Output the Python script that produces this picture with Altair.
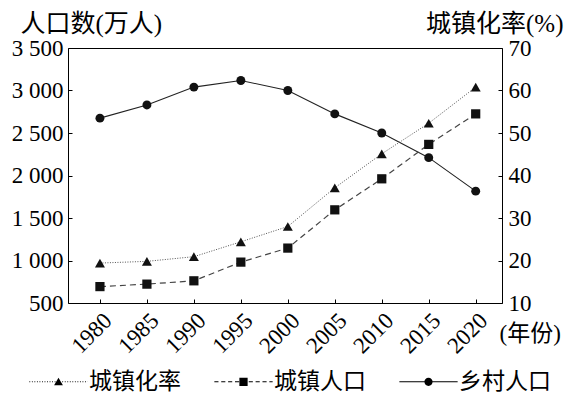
import altair as alt
import pandas as pd

years = [1980, 1985, 1990, 1995, 2000, 2005, 2010, 2015, 2020]
rural_pop = [2675, 2830, 3040, 3118, 3000, 2725, 2500, 2210, 1816]
urban_pop = [693, 722, 761, 981, 1146, 1596, 1961, 2366, 2725]
urban_rate = [19.4, 19.8, 20.9, 24.4, 28.0, 37.1, 45.1, 52.3, 60.8]
series_names = ["城镇化率", "城镇人口", "乡村人口"]
left_ticks = [500, 1000, 1500, 2000, 2500, 3000, 3500]
right_ticks = [10, 20, 30, 40, 50, 60, 70]

df = pd.DataFrame({"year": years, "rural": rural_pop, "urban": urban_pop, "rate": urban_rate})
legend_df = pd.DataFrame({"series": series_names, "year": [2000] * 3, "val": [2000] * 3})

NUM = "Liberation Serif, serif"
CJK = "Liberation Serif, Noto Sans CJK SC"
FS = 23
TICK = alt.ExprRef("-4")
common = dict(labelFont=NUM, labelFontSize=FS, labelColor="black", tickColor="black", grid=False,
              titleFont=CJK, titleFontWeight="normal", titleColor="black", domain=False)

xs = alt.Scale(domain=[1976.6, 2022.8], nice=False, zero=False)
ls = alt.Scale(domain=[500, 3500], nice=False, zero=False)
rs = alt.Scale(domain=[10, 70], nice=False, zero=False)

x_axis = alt.Axis(values=years, format="d", labelAngle=-45, labelAlign="right", labelBaseline="top",
                  labelOverlap=False, tickSize=TICK, labelPadding=10, titleFontSize=23,
                  title="(年份)", titleX=431, titleY=37, titleAlign="left", titleBaseline="alphabetic", **common)
left_axis = alt.Axis(values=left_ticks, tickSize=TICK, labelPadding=9, labelOverlap=False, titleFontSize=25,
                     labelExpr="datum.value >= 1000 ? floor(datum.value / 1000) + ' ' + slice(toString(1000 + datum.value % 1000), 1) : toString(datum.value)",
                     title="人口数(万人)", titleAngle=0, titleX=-48, titleY=-17, titleAlign="left",
                     titleBaseline="alphabetic", **common)
right_axis = alt.Axis(orient="right", values=right_ticks, tickSize=TICK, labelPadding=10, labelOverlap=False,
                      titleFontSize=25,
                      title="城镇化率(%)", titleAngle=0, titleX=61, titleY=-17, titleAlign="right",
                      titleBaseline="alphabetic", **common)

base = alt.Chart(df)
xa = alt.X("year:Q", scale=xs, axis=x_axis)

rural_line = base.mark_line(color="#222", strokeWidth=1.1).encode(
    x=xa, y=alt.Y("rural:Q", scale=ls, axis=left_axis))
rural_pts = base.mark_point(shape="circle", filled=True, size=80, color="#111", opacity=1).encode(
    x=xa, y=alt.Y("rural:Q", scale=ls, axis=None))
urban_line = base.mark_line(color="#444", strokeDash=[6, 4], strokeWidth=1.2).encode(
    x=xa, y=alt.Y("urban:Q", scale=ls, axis=None))
urban_pts = base.mark_point(shape="square", filled=True, size=85, color="#111", opacity=1).encode(
    x=xa, y=alt.Y("urban:Q", scale=ls, axis=None))


def seg_path(on, off, half=5.3, th=0.09):
    # legend sample line drawn as filled segments (unit coords)
    parts = []
    p = -half
    while p < half:
        e = min(p + on, half)
        parts.append(f"M{p:.3f},{-th}H{e:.3f}V{th}H{p:.3f}Z")
        p = e + off
    return "".join(parts)


paths = [
    seg_path(0.16, 0.3, th=0.08) + "M0,-0.75L0.8,0.65L-0.8,0.65Z",
    seg_path(0.75, 0.5) + "M-0.75,-0.75H0.75V0.75H-0.75Z",
    seg_path(10.6, 0) + "M0.75,0A0.75,0.75,0,1,1,-0.75,0A0.75,0.75,0,1,1,0.75,0Z",
]
leg = alt.Legend(title=None, orient="none", legendX=-21, legendY=322, direction="horizontal",
                 symbolSize=121, symbolOpacity=1, symbolFillColor="black",
                 labelOffset=19, columnPadding=30,
                 labelFont="Noto Sans CJK SC", labelFontSize=23, labelColor="black", labelLimit=0)
legend_layer = alt.Chart(legend_df).mark_point(filled=True, color="black", opacity=0).encode(
    x=xa, y=alt.Y("val:Q", scale=ls, axis=None),
    shape=alt.Shape("series:N", scale=alt.Scale(domain=series_names, range=paths), legend=leg),
)

rate_line = base.mark_line(color="#555", strokeDash=[1, 1.5], strokeWidth=1).encode(
    x=xa, y=alt.Y("rate:Q", scale=rs, axis=right_axis))
rate_pts = base.mark_point(shape="triangle-up", filled=True, size=100, color="#111", opacity=1).encode(
    x=xa, y=alt.Y("rate:Q", scale=rs, axis=None))

chart = alt.layer(rural_line, rural_pts, urban_line, urban_pts, legend_layer, rate_line, rate_pts).resolve_scale(
    y="independent"
).properties(
    width=434, height=255,
    padding={"left": 60, "top": 40, "right": 62, "bottom": 93},
    autosize=alt.AutoSizeParams(type="none"),
).configure_view(stroke="black", strokeWidth=1)

chart.save("out.html", embed_options={"renderer": "svg", "actions": False})
